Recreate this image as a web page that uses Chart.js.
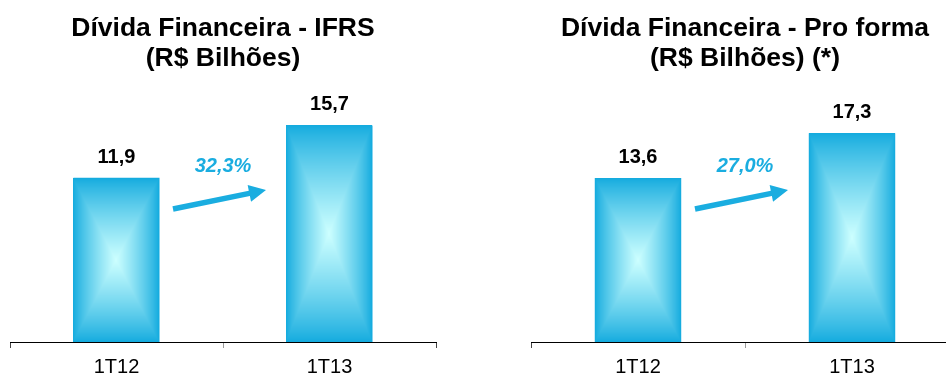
<!DOCTYPE html>
<html lang="pt-BR">
<head>
<meta charset="utf-8">
<script src="https://cdn.jsdelivr.net/npm/chart.js@4.4.1/dist/chart.umd.min.js"></script>
<style>
  html, body { margin: 0; padding: 0; background: #fff; }
  body { position: relative; width: 946px; height: 376px; overflow: hidden; }
  canvas { position: absolute; top: 0; display: block; }
  #c1 { left: 0; }
  #c2 { left: 473px; }
</style>
</head>
<body>
<canvas id="c1" width="473" height="387"></canvas>
<canvas id="c2" width="500" height="387"></canvas>
<script>
// Quarters on the x axis
const categories = ['1T12', '1T13'];

// Financial debt, R$ billions
const ifrsValues = [11.9, 15.7];
const proFormaValues = [13.6, 17.3];

// Growth between the two quarters
const ifrsGrowth = '32,3%';
const proFormaGrowth = '27,0%';

// Panel titles
const ifrsTitle = ['Dívida Financeira - IFRS', '(R$ Bilhões)'];
const proFormaTitle = ['Dívida Financeira - Pro forma', '(R$ Bilhões) (*)'];

const FONT = '"Liberation Sans", Arial, Helvetica, sans-serif';
const CYAN = '#1AADE0';
const EDGE = [18, 170, 222];
const CENTER = [205, 255, 255];

Chart.defaults.font.family = FONT;

function fmt(v) {
  return v.toFixed(1).replace('.', ',');
}

// Rectangular "from centre" gradient painted over each bar element
function paintBar(ctx, left, top, w, h) {
  w = Math.max(1, Math.round(w));
  h = Math.max(1, Math.round(h));
  const off = document.createElement('canvas');
  off.width = w; off.height = h;
  const octx = off.getContext('2d');
  const img = octx.createImageData(w, h);
  const hw = w / 2, hh = h / 2;
  for (let y = 0; y < h; y++) {
    for (let x = 0; x < w; x++) {
      const dx = Math.abs(x + 0.5 - hw) / hw;
      const dy = Math.abs(y + 0.5 - hh) / hh;
      const t = Math.min(1, Math.max(dx, dy));
      const k = Math.pow(1 - t, 0.85);
      const i = (y * w + x) * 4;
      img.data[i] = EDGE[0] + (CENTER[0] - EDGE[0]) * k;
      img.data[i + 1] = EDGE[1] + (CENTER[1] - EDGE[1]) * k;
      img.data[i + 2] = EDGE[2] + (CENTER[2] - EDGE[2]) * k;
      img.data[i + 3] = 255;
    }
  }
  octx.putImageData(img, 0, 0);
  ctx.drawImage(off, Math.round(left), Math.round(top));
}

const barDecor = {
  id: 'barDecor',
  afterDatasetsDraw(chart) {
    const ctx = chart.ctx;
    const meta = chart.getDatasetMeta(0);
    const data = chart.data.datasets[0].data;
    meta.data.forEach((el, i) => {
      const { x, y, base, width } = el.getProps(['x', 'y', 'base', 'width'], true);
      paintBar(ctx, x - width / 2, y, width, base - y);
      ctx.save();
      ctx.fillStyle = '#000';
      ctx.font = 'bold 20px ' + FONT;
      ctx.textAlign = 'center';
      ctx.textBaseline = 'alphabetic';
      ctx.fillText(fmt(data[i]), x, y - 15);
      ctx.restore();
    });
  }
};

// Growth arrow between the two bars, centred on the category boundary
const growthArrow = {
  id: 'growthArrow',
  afterDraw(chart, args, opts) {
    const xs = chart.scales.x;
    const mid = (xs.getPixelForValue(0) + xs.getPixelForValue(1)) / 2;
    const bottom = chart.chartArea.bottom;
    const ctx = chart.ctx;
    const x0 = mid - 50, y0 = bottom - 133;
    const x1 = mid + 43, y1 = bottom - 152;
    const ang = Math.atan2(y1 - y0, x1 - x0);
    const L = Math.hypot(x1 - x0, y1 - y0);
    const shaft = 5.5, headLen = 17, headW = 17;
    ctx.save();
    ctx.fillStyle = CYAN;
    ctx.translate(x0, y0);
    ctx.rotate(ang);
    ctx.beginPath();
    ctx.moveTo(0, -shaft / 2);
    ctx.lineTo(L - headLen, -shaft / 2);
    ctx.lineTo(L - headLen, -headW / 2);
    ctx.lineTo(L, 0);
    ctx.lineTo(L - headLen, headW / 2);
    ctx.lineTo(L - headLen, shaft / 2);
    ctx.lineTo(0, shaft / 2);
    ctx.closePath();
    ctx.fill();
    ctx.restore();

    ctx.save();
    ctx.fillStyle = CYAN;
    ctx.font = 'italic bold 20px ' + FONT;
    ctx.textAlign = 'center';
    ctx.textBaseline = 'alphabetic';
    ctx.fillText(opts.label, mid, bottom - 170);
    ctx.restore();
  }
};

function makeChart(id, values, title, growth, yMax, pad) {
  return new Chart(document.getElementById(id), {
    type: 'bar',
    data: {
      labels: categories,
      datasets: [{
        data: values,
        backgroundColor: CYAN,
        borderWidth: 0,
        barPercentage: 0.404,
        categoryPercentage: 1
      }]
    },
    options: {
      responsive: false,
      maintainAspectRatio: false,
      animation: false,
      devicePixelRatio: 1,
      events: [],
      layout: { padding: pad },
      scales: {
        x: {
          offset: true,
          z: 1,
          grid: {
            offset: true,
            drawOnChartArea: false,
            drawTicks: true,
            tickLength: 6,
            color: (c) => (c.index === 1 ? '#9a9a9a' : '#444'),
            lineWidth: 1
          },
          border: { display: true, color: '#000', width: 1 },
          ticks: { color: '#000', font: { size: 20, lineHeight: 1.15 }, padding: 8 }
        },
        y: { display: false, min: 0, max: yMax }
      },
      plugins: {
        legend: { display: false },
        tooltip: { enabled: false },
        title: {
          display: true,
          text: title,
          color: '#000',
          font: { size: 26.5, weight: 'bold', lineHeight: 1.15 },
          padding: { top: 13, bottom: 6 }
        },
        growthArrow: { label: growth }
      }
    },
    plugins: [barDecor, growthArrow]
  });
}

makeChart('c1', ifrsValues, ifrsTitle, ifrsGrowth, 19.0, { left: 10, right: 37, top: 0, bottom: 0 });
makeChart('c2', proFormaValues, proFormaTitle, proFormaGrowth, 21.73, { left: 58, right: 14, top: 0, bottom: 0 });
</script>
</body>
</html>
